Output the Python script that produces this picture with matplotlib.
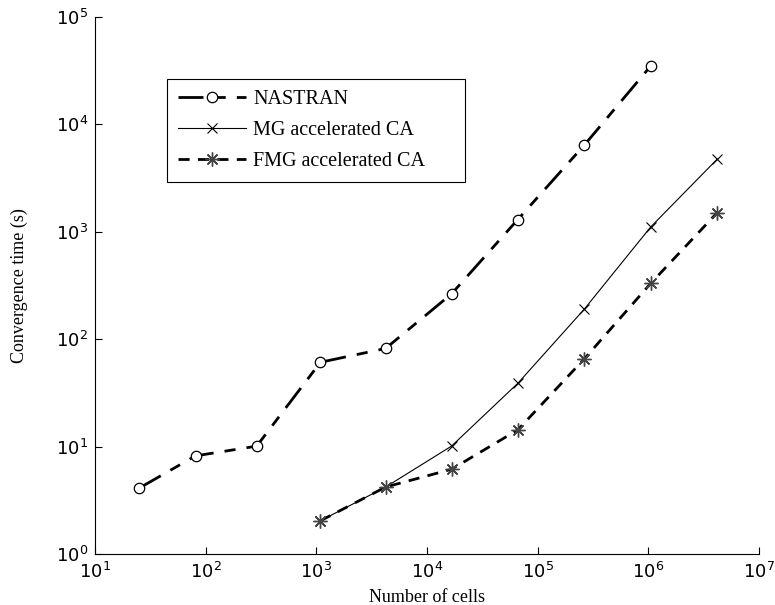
import matplotlib
matplotlib.use('Agg')
import matplotlib.pyplot as plt

plt.rcParams['mathtext.fontset'] = 'custom'
plt.rcParams['mathtext.rm'] = 'Liberation Sans'
plt.rcParams['mathtext.it'] = 'Liberation Sans:italic'
plt.rcParams['mathtext.bf'] = 'Liberation Sans:bold'

# grid sizes (2^k+1)^2
nastran_cells = [25, 81, 289, 1089, 4225, 16641, 66049, 263169, 1050625]
nastran_time = [4.1, 8.2, 10.1, 61, 82, 264, 1300, 6400, 35000]

mg_cells = [1089, 4225, 16641, 66049, 263169, 1050625, 4198401]
mg_time = [2.04, 4.2, 10.1, 38.8, 190, 1110, 4760]

fmg_cells = [1089, 4225, 16641, 66049, 263169, 1050625, 4198401]
fmg_time = [2.04, 4.2, 6.15, 14.3, 65.4, 331, 1510]

fig = plt.figure(figsize=(7.75, 6.05), dpi=100)
ax = fig.add_axes([0.1226, 0.0843, 0.8568, 0.8876])

ax.plot(nastran_cells, nastran_time, color='black', lw=2.0, dashes=(9, 4, 4, 4),
        marker='o', ms=7.5, mfc='white', mec='black', mew=0.9, label='NASTRAN')
ax.plot(mg_cells, mg_time, color='black', lw=0.8, ls='-',
        marker='x', ms=7, mew=0.8, label='MG accelerated CA')
# trailing spaces widen the legend box like the original
ax.plot(fmg_cells, fmg_time, color='black', lw=2.0, dashes=(4, 3),
        marker=(8, 2, 0), ms=10, mec='#444444', mew=1.0,
        label='FMG accelerated CA' + ' ' * 6)

ax.set_xscale('log')
ax.set_yscale('log')
ax.set_xlim(10, 1e7)
ax.set_ylim(1, 1e5)
ax.minorticks_off()
ax.set_xticks([10**k for k in range(1, 8)])
ax.set_yticks([10**k for k in range(0, 6)])

ax.spines['top'].set_visible(False)
ax.spines['right'].set_visible(False)
ax.tick_params(direction='in', length=5, width=0.8, labelsize=13)
ax.tick_params(axis='x', pad=6)
ax.tick_params(axis='y', pad=5)

ax.set_xlabel('Number of cells', fontfamily='Liberation Serif', fontsize=13, labelpad=5)
ax.set_ylabel('Convergence time (s)', fontfamily='Liberation Serif', fontsize=13, labelpad=20)

leg = ax.legend(loc='upper left', bbox_to_anchor=(0.108, 0.885), borderaxespad=0,
                fancybox=False, framealpha=1, edgecolor='black',
                handlelength=3.4, handletextpad=0.35,
                prop={'family': 'Liberation Serif', 'size': 14.5},
                borderpad=0.55, labelspacing=0.6)
leg.get_frame().set_linewidth(0.8)

fig.savefig('out.png', dpi=100)
